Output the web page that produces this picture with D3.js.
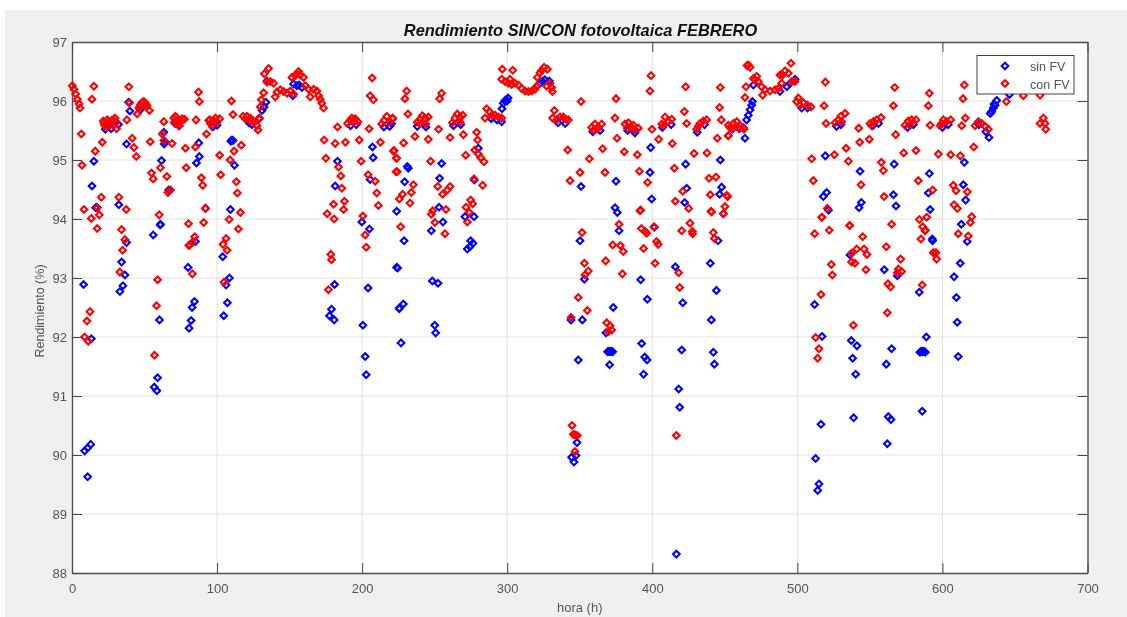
<!DOCTYPE html>
<html><head><meta charset="utf-8">
<script src="https://cdn.jsdelivr.net/npm/d3@7"></script>
<style>html,body{margin:0;padding:0;background:#fff;overflow:hidden}svg{display:block;filter:blur(0.4px)}text{font-family:"Liberation Sans",Arial,sans-serif}</style>
</head><body><svg id="c" width="1127" height="617"></svg>
<script>
const xTicks=[0,100,200,300,400,500,600,700];
const yTicks=[88,89,90,91,92,93,94,95,96,97];
const titleText="Rendimiento SIN/CON fotovoltaica FEBRERO";
const xLabel="hora (h)";
const yLabel="Rendimiento (%)";
const seriesNames=["sin FV","con FV"];

const sinFV_a=[[39,95.98],[39.9,95.83],[37.6,95.27],[15.1,94.98],[13.8,94.56],[16.3,94.19],[17.2,94.2],[32.3,94.24],[60.8,93.9],[61.7,94.99],[63.3,95.47],[64.2,95.31],[63.6,95.27],[66.7,94.49],[87.4,95.29],[87.8,95.06],[85.8,94.95],[92,94.18],[109.5,95.32],[110.3,95.34],[111,95.33],[112,94.91],[109.2,94.16],[133.7,95.98],[131,95.84],[132.4,95.9],[129.1,95.7],[134.4,96.34],[152.7,96.29],[155,96.26],[152.3,96.09],[158.5,96.23],[156.5,96.27],[183,94.98],[181.4,94.56],[199.8,93.95],[205,93.83],[207.1,95.22],[207.6,95.04],[205.5,94.67],[223.8,94.13],[61,93.91],[56,93.73],[37.6,93.6],[34.2,93.27],[36.5,93.05],[35.1,92.87],[33,92.77],[8,92.89],[13.3,91.97],[60.3,92.29],[59,91.31],[56.7,91.15],[58.5,91.09],[85.1,93.62],[80,93.18],[84.4,92.6],[82.8,92.5],[82.1,92.28],[80.7,92.15],[103.9,93.36],[108.5,93],[106.2,92.88],[107.1,92.58],[104.6,92.36],[181,92.89],[178.9,92.47],[177.5,92.36],[180.7,92.29],[204.1,92.83],[200.5,92.2],[202.1,91.67],[202.8,91.36],[223.8,93.18],[225.6,92.49],[226.8,91.9],[8.7,90.07],[10.8,90.12],[12.9,90.18],[10.8,89.63]];
const sinFV_b=[[220.3,95.62],[231.1,94.89],[231.8,94.86],[229.3,94.63],[228.9,93.63],[224.5,93.17],[228.4,92.56],[225.6,92.48],[254.8,94.94],[253.4,94.69],[253,94.2],[255.7,93.95],[247.7,93.8],[248.4,92.95],[252.3,92.91],[250,92.2],[250.7,92.07],[280.1,95.2],[277.3,94.66],[270.9,94.04],[277.1,94.04],[274.8,93.63],[276.4,93.59],[274.3,93.53],[272.5,93.49],[296.2,95.65],[296.4,95.87],[297.3,95.96],[298.4,96],[299.2,96.02],[300,96],[300.6,96.05],[324.4,96.33],[322.6,96.3],[326,96.36],[329,96.34]];
const sinFV_c=[[398.9,95.21],[398.4,94.79],[399.6,94.34],[423,94.93],[423.7,94.52],[422.3,94.28],[375,94.64],[350.9,94.55],[350.2,93.63],[374.3,94.19],[375.9,94.11],[377.1,93.8],[401.4,93.86],[446.9,95],[447.8,94.54],[446.4,94.42],[449,94.09],[353.2,92.98],[373.1,92.5],[351.8,92.29],[344,92.29],[368.1,92.07],[369.2,91.75],[370.2,91.76],[370.9,91.75],[371.8,91.76],[372.7,91.75],[349,91.61],[370.6,91.53],[392,92.97],[396.6,92.64],[392.7,91.89],[394.8,91.66],[396.4,91.61],[394,91.37],[415.9,93.19],[421,92.58],[420.3,91.78],[418.2,91.12],[418.9,90.81],[440,93.25],[445.3,93.63],[444.2,92.79],[440.7,92.29],[442.1,91.74],[442.8,91.54],[348.1,90.21],[347.4,89.99],[344.4,89.96],[346,89.88],[416.6,88.32]];
const sinFV_d=[[511.9,92.55],[517,92.01],[537.2,91.94],[541.1,91.85],[538.1,91.64],[540.2,91.37],[536.3,93.39],[559.9,93.14],[568.9,93.04],[584,92.76],[588.9,92],[584.5,91.74],[585.4,91.76],[586.3,91.75],[587.2,91.76],[588.2,91.74],[586.1,90.74],[565,91.8],[561.3,91.54],[516.3,90.52],[538.8,90.63],[562.7,90.65],[564.5,90.6],[562,90.19],[512.6,89.94],[514.9,89.51],[514,89.4],[593.2,93.63],[612.3,93.25],[608,93.02],[609.6,92.67],[610.2,92.25],[610.9,91.67],[617.1,93.62],[463.9,95.37],[469.7,96.27],[465,95.68],[466.2,95.76],[467.4,95.85],[468.5,95.93],[469,95.99],[488,96.16],[492.7,96.24],[495,96.3],[498.4,96.37],[519.3,95.07],[517.9,94.38],[520.2,94.45],[521.4,94.15],[543.2,94.81],[542.5,94.19],[544.1,94.28],[566.2,94.41],[568,94.22],[566.7,94.93],[591,94.77],[590.3,94.44],[591.5,94.16],[593,93.66],[613,93.91],[614.4,94.58],[616,94.32],[615.1,94.96],[632.1,95.38],[634,95.82],[635.1,95.88],[636.3,95.93],[637.4,96.01],[635.6,95.95],[633,95.79],[646.2,96.11]];
const sinFV_e=[[23,95.52],[27,95.53],[32,95.6],[47,95.85],[74,95.58],[71,95.62],[97,95.56],[100,95.59],[122,95.63],[124,95.6],[192,95.58],[196,95.6],[215,95.56],[219,95.57],[238,95.57],[244,95.56],[263,95.58],[268,95.6],[289,95.7],[293,95.68],[335,95.63],[340,95.62],[359,95.48],[364,95.5],[383,95.5],[388,95.46],[407,95.55],[413,95.6],[431,95.47],[436,95.6],[455,95.52],[460,95.53],[503,95.88],[507,95.88],[527,95.57],[530,95.6],[552,95.58],[556,95.62],[576,95.55],[580,95.6],[600,95.55],[604,95.6],[625,95.6],[630,95.48]];

const conFV_a=[[0.2,96.26],[1.4,96.2],[2.5,96.12],[3.7,96.03],[4.8,95.95],[5.5,95.88],[6.4,95.44],[6.9,94.91],[15.1,96.25],[13.8,96.03],[16,95.15],[20.9,95.3],[20.2,94.37],[8.3,94.16],[13.3,94.01],[17.4,94.19],[18.8,94.07],[17.4,93.84],[21.6,95.66],[22.7,95.58],[23.9,95.56],[25,95.64],[26.1,95.59],[27.3,95.67],[28.4,95.68],[29.6,95.71],[30.7,95.64],[22,95.62],[24.3,95.68],[30.7,95.53],[39.2,96.24],[39.7,95.97],[37.8,95.68],[45,95.78],[46.1,95.88],[47.2,95.94],[48.4,95.98],[49.5,95.99],[50.7,95.96],[51.8,95.92],[53.4,95.84],[46.8,95.9],[50,95.92],[41.5,95.37],[42.7,95.21],[44.3,95.06],[53.9,95.31],[54.8,94.78],[56,94.68],[60.1,94.07],[61,94.87],[62.2,95.44],[63.3,95.65],[63.3,95.33],[65.4,94.72],[66.1,94.45],[67.9,94.49],[69,95.28],[34.2,93.82],[32.3,94.37],[37.4,94.16],[80.3,93.92],[78.2,95.2],[85.1,95.22],[78.7,94.87],[70.2,95.71],[71.3,95.74],[72.5,95.67],[73.6,95.58],[74.8,95.64],[75.9,95.7],[77.5,95.69],[70.6,95.64],[73,95.62],[87.2,96.15],[87.8,95.99],[85.5,95.68],[92.7,95.44],[89.2,94.7],[90.1,94.57],[92,94.18],[90.8,93.94],[94.3,95.67],[95.4,95.62],[96.6,95.59],[97.7,95.67],[98.9,95.71],[100,95.64],[101.8,95.7],[94.9,95.68],[101.8,95.08],[109,95],[102.5,94.75],[109.9,96],[111,95.77],[116.7,95.25],[111.7,95.15],[113.3,94.63],[114,94.44],[116.1,94.11],[108.3,93.99],[114.7,93.83],[117.9,95.74],[119.5,95.7],[120.6,95.74],[121.8,95.68],[122.9,95.71],[124.1,95.66],[125.2,95.64],[127.5,95.58],[128.2,95.51],[129.1,95.71],[129.8,95.9],[130.5,96.02],[132.1,96.14],[132.6,96.46],[135.5,96.55],[134.4,96.32],[136.7,96.33],[139,96.3],[140.1,96.07],[141.3,96.15],[143.6,96.19],[145.9,96.16],[148.2,96.13],[150.5,96.17],[152.7,96.12],[151.6,96.4],[154,96.43],[156.2,96.5],[157.3,96.44],[159.6,96.4],[155,96.46],[160.8,96.26],[163.1,96.2],[164.2,96.07],[166.5,96.2],[168.8,96.17],[170,96.09],[171.1,96.03],[172.2,95.96],[173.4,95.88],[173.8,95.34],[175,95.03],[175.9,94.09],[180.3,94.25],[180.7,94],[181.4,95.28],[183,95.56],[183.7,94.88],[185.3,94.73],[186,94.52],[187.8,94.3],[187.2,94.16],[188.5,95.3],[198,95.34],[199.3,94.98],[200.5,94.05],[189.9,95.62],[191.7,95.67],[192.9,95.71],[194,95.64],[195.2,95.7],[197,95.65],[205.5,96.09],[207.8,96.02],[206.9,96.39],[204.8,95.53],[212.6,95.3],[204.1,94.75],[209,94.64],[210.1,94.44],[211.2,94.23],[221.6,95.15],[223.8,95.03],[223.4,94.8],[213.5,95.61],[215.1,95.67],[217,95.74],[219,95.64],[221.1,95.7],[36.5,93.65],[34.9,93.47],[33,93.1],[59,92.97],[58.3,92.53],[56.9,91.69],[12.4,92.43],[10.3,92.27],[8.7,92],[11.2,91.93],[84.6,93.7],[82.8,93.6],[81.2,93.56],[80.5,93.55],[83,93.07],[106.2,93.67],[104.1,93.57],[106.9,93.47],[104.8,92.93],[178.4,93.4],[178.9,93.31],[176.8,92.8],[202.1,93.73],[202.8,93.52]];
const conFV_b=[[221,95.71],[231.6,95.78],[230.7,96.17],[229.5,96.04],[238,95.64],[239.9,95.69],[241.5,95.75],[243.3,95.71],[245.6,95.73],[243.8,95.61],[240,95.62],[254.8,96.13],[253.4,96.04],[252.7,95.52],[236.4,95.4],[245.6,95.35],[228.6,95.29],[260.6,95.38],[222,95.16],[223.6,95.03],[247.2,94.98],[224.2,94.8],[235.3,94.58],[233.9,94.45],[227.9,94.42],[225.6,94.34],[233,94.27],[226.6,93.87],[252.1,94.55],[255.5,94.42],[258.7,94.49],[260.6,94.55],[257.8,94.16],[248.6,94.14],[247.7,94.08],[250.2,93.94],[257.1,93.75],[262.2,95.63],[264,95.71],[265.6,95.78],[267.5,95.73],[269.3,95.76],[267.5,95.64],[269.8,95.43],[271.4,95.08],[278.9,95.47],[279.6,95.34],[277.6,95.17],[280.1,95.1],[281.7,95.04],[284,94.97],[277.1,94.68],[283.1,94.57],[274.8,94.32],[276.2,94.26],[271.6,94.2],[273.9,94.11],[272.5,93.95],[285.8,95.87],[284.7,95.71],[287.7,95.82],[289.3,95.76],[291.6,95.76],[293.9,95.73],[296.2,95.71],[296.6,96.54],[303.8,96.52],[296.2,96.37],[298.5,96.33],[300.8,96.3],[303.1,96.28],[305.4,96.3],[307.7,96.27],[310,96.21],[312.3,96.17],[314.6,96.16],[316.9,96.17],[319.2,96.2],[320.3,96.25],[301.9,96.37],[320.8,96.4],[322.6,96.48],[323.8,96.52],[325.4,96.57],[327.7,96.54],[327.2,96.25],[329.5,96.3],[330.6,96.23],[331.1,96.16],[332.5,95.84],[331.3,95.71],[334.1,95.68],[336.4,95.73],[338.7,95.73],[340.5,95.69],[342.1,95.68],[341.7,95.17],[350.9,95.99],[350.2,94.79],[343.3,94.65],[356.6,95.02],[367.4,94.79],[365.8,95.19],[375.7,95.37],[374.3,95.71],[375,96.04],[380.7,95.14],[389.7,95.09],[391.1,94.81],[396.8,94.62],[392,94.15],[399.1,96.43],[398.4,96.17],[399.8,95.52],[404.4,95.35],[413.8,95.28],[415.2,94.86],[415.9,94.3],[421,94.47],[425.1,94.18],[426,93.93],[422.1,95.82],[423.7,95.62],[423,96.24],[358.2,95.55],[360.5,95.61],[362.8,95.56],[365.1,95.61],[359.4,95.51],[362,95.52],[381.2,95.61],[383.5,95.63],[385.8,95.55],[388.1,95.51],[390.4,95.54],[382.8,95.54],[387,95.59],[406.5,95.61],[408.8,95.73],[411.1,95.65],[413.4,95.69],[407.6,95.58],[428.8,95.11],[437.7,95.12],[439.1,94.69],[443.9,94.71],[440,94.41],[440.5,94.13],[450.1,94.21],[449,94.09],[451.3,94.4],[452,94.38],[430.6,95.52],[432.9,95.62],[435.2,95.66],[437.5,95.68],[431.7,95.57],[446.9,96.23],[446.4,95.89],[447.6,95.68],[444.8,95.37],[452.4,95.59],[452.4,95.41]];
const conFV_c=[[351.6,93.77],[353.2,93.25],[355.9,93.12],[353.6,93.05],[349,92.67],[355.2,92.45],[344,92.33],[367.9,93.29],[379.4,93.07],[372.7,93.56],[378,93.55],[380,93.45],[377.1,93.91],[391.5,94.14],[392.5,93.84],[395,93.79],[396.1,93.76],[394,93.5],[401.2,93.87],[403,93.62],[404,93.57],[401.9,93.25],[368.6,92.24],[370.9,92.19],[372,92.12],[369.7,92.09],[420.3,93.8],[427.6,93.79],[427.8,93.75],[418.2,93.09],[418.9,92.84],[440.9,94.12],[442.1,93.77],[442.8,93.67],[344.7,90.5],[345.6,90.35],[348.3,90.33],[347,90.34],[346.7,90.06],[416.6,90.33]];
const conFV_d=[[511.9,93.75],[517,94.03],[522,93.81],[516.3,92.72],[523.4,93.23],[524.1,93.05],[512.6,91.99],[514.9,91.8],[514,91.64],[536,93.89],[545,93.7],[540.9,93.49],[546,93.49],[548,93.4],[537.4,93.42],[537.4,93.27],[539.7,93.25],[547.3,93.14],[538.6,92.2],[561.3,93.53],[571.2,93.32],[569.6,93.15],[568.9,93.09],[571.9,93.11],[562.4,92.9],[564.3,92.85],[562,92.41],[586.1,92.88],[585.2,93.66],[588,93.8],[593.7,93.43],[595.5,93.43],[596,93.32],[610.9,93.75],[617.8,93.71],[466.2,96.61],[467.4,96.57],[465.3,96.6],[464.6,96.24],[463.9,96.06],[452.4,95.41],[463.2,95.52],[453.6,95.55],[455.9,95.62],[458.2,95.65],[460.5,95.59],[462.8,95.55],[455.4,95.54],[459.3,95.55],[469.7,96.38],[472,96.42],[473.1,96.33],[475.4,96.24],[470.8,96.36],[476.1,96.1],[477.7,96.19],[481.2,96.17],[484.6,96.19],[486.9,96.21],[489.2,96.3],[488,96.44],[491.5,96.51],[489.8,96.44],[493.8,96.47],[495.6,96.64],[496.1,96.33],[498.4,96.33],[500.7,96.05],[499.5,95.99],[501.9,95.93],[504.1,95.97],[506.9,95.93],[509.4,95.9],[519.3,96.32],[518.4,95.92],[519.8,95.62],[509.9,95.02],[525.5,95.09],[511,94.65],[516.8,94.03],[520.7,94.18],[526,95.63],[528.3,95.68],[529.9,95.74],[532.9,95.79],[530.6,95.65],[542.3,95.54],[533.6,95.2],[535.2,94.98],[543,95.3],[549.6,95.35],[543.9,94.58],[536.1,93.89],[550.1,95.62],[552.4,95.65],[554.7,95.68],[557.7,95.72],[551.2,95.58],[566.2,95.92],[567.1,96.23],[567.8,95.43],[573.3,95.12],[581.8,95.16],[557.9,94.96],[559.3,94.82],[559.8,94.38],[565,93.91],[574.2,95.59],[576.5,95.66],[578.8,95.68],[581.8,95.68],[577.7,95.59],[591,96.13],[590.3,95.92],[591.5,95.59],[583.4,94.65],[584.1,93.99],[589.2,94.03],[586.4,93.87],[588.3,93.81],[593.3,94.49],[597.2,95.1],[605.7,95.09],[612.4,95.07],[615.1,96.27],[614.2,96.04],[615.8,95.71],[613.3,95.58],[621.6,95.22],[598.4,95.58],[600.7,95.68],[603,95.65],[605.7,95.68],[599.5,95.62],[607.5,94.57],[609.4,94.48],[617.2,94.46],[608,94.24],[610.3,94.18],[620.2,94.04],[619.3,93.94],[622.5,95.58],[624.8,95.65],[627.1,95.62],[629.4,95.57],[631.7,95.52],[644.1,95.99],[655.8,96.09],[667.3,96.1],[669.6,95.71],[667.3,95.62],[670.7,95.62],[671.2,95.52]];

const sinFV=[...sinFV_e,...sinFV_a,...sinFV_b,...sinFV_c,...sinFV_d];
const conFV=[...conFV_a,...conFV_b,...conFV_c,...conFV_d];

const svg=d3.select("#c");
const INK="#555", FRAME="#505050";
svg.append("rect").attr("x",5).attr("y",10).attr("width",1122).attr("height",607).attr("fill","#f0f0f0");
const pL=72,pR=1087.5,pT=42,pB=573;
const x=d3.scaleLinear().domain([0,700]).range([pL,pR]);
const y=d3.scaleLinear().domain([88,97]).range([pB,pT]);
svg.append("rect").attr("x",pL).attr("y",pT).attr("width",pR-pL).attr("height",pB-pT).attr("fill","#fff");

const grid=svg.append("g").attr("stroke","#e2e2e2").attr("stroke-width",1);
grid.selectAll(".v").data(xTicks.slice(1,-1)).join("line").attr("class","v").attr("x1",d=>x(d)).attr("x2",d=>x(d)).attr("y1",pT).attr("y2",pB);
grid.selectAll(".h").data(yTicks.slice(1,-1)).join("line").attr("class","h").attr("x1",pL).attr("x2",pR).attr("y1",d=>y(d)).attr("y2",d=>y(d));

function styleAxis(g){
  g.select(".domain").attr("stroke",FRAME).attr("stroke-width",1.4);
  g.selectAll(".tick line").attr("stroke","#444").attr("stroke-width",1);
  g.selectAll("text").attr("fill",INK).style("font-size","13px");
}
svg.append("g").attr("transform",`translate(0,${pB})`).call(d3.axisBottom(x).tickValues(xTicks).tickSize(-10).tickPadding(11).tickSizeOuter(0)).call(styleAxis);
svg.append("g").attr("transform",`translate(${pL},0)`).call(d3.axisLeft(y).tickValues(yTicks).tickSize(-10).tickPadding(5).tickSizeOuter(0)).call(styleAxis);
svg.append("g").attr("transform",`translate(0,${pT})`).call(d3.axisTop(x).tickValues(xTicks).tickSize(-10).tickFormat("").tickSizeOuter(0)).call(styleAxis);
svg.append("g").attr("transform",`translate(${pR},0)`).call(d3.axisRight(y).tickValues(yTicks).tickSize(-10).tickFormat("").tickSizeOuter(0)).call(styleAxis);

const diamond=r=>`M0,${-r}L${r},0L0,${r}L${-r},0Z`;
function marks(data,color){
  svg.append("g").selectAll("path").data(data).join("path")
    .attr("d",diamond(3.3)).attr("fill","none").attr("stroke",color).attr("stroke-width",2.1)
    .attr("transform",d=>`translate(${x(d[0])},${y(d[1])})`);
}
marks(sinFV,"#0000ff");
marks(conFV,"#ff0000");

svg.append("text").attr("x",580.5).attr("y",36).attr("text-anchor","middle")
  .attr("font-size",16.4).attr("font-weight","bold").attr("font-style","italic").attr("fill","#111").text(titleText);
svg.append("text").attr("x",(pL+pR)/2).attr("y",612).attr("text-anchor","middle").attr("font-size",13).attr("fill",INK).text(xLabel);
svg.append("text").attr("transform",`translate(44,311) rotate(-90)`).attr("text-anchor","middle").attr("font-size",12.5).attr("fill",INK).text(yLabel);

const lg=svg.append("g");
lg.append("rect").attr("x",977).attr("y",55.5).attr("width",97).attr("height",38.5).attr("fill","#fff").attr("stroke","#444").attr("stroke-width",1);
const legendColors=["#0000ff","#ff0000"];
seriesNames.forEach((n,i)=>{
  const ly=66+i*17.5;
  lg.append("path").attr("d",diamond(3.3)).attr("fill","none").attr("stroke",legendColors[i]).attr("stroke-width",2.1).attr("transform",`translate(1005,${ly})`);
  lg.append("text").attr("x",1030).attr("y",ly+5).attr("font-size",12.5).attr("fill",INK).text(n);
});
</script></body></html>
